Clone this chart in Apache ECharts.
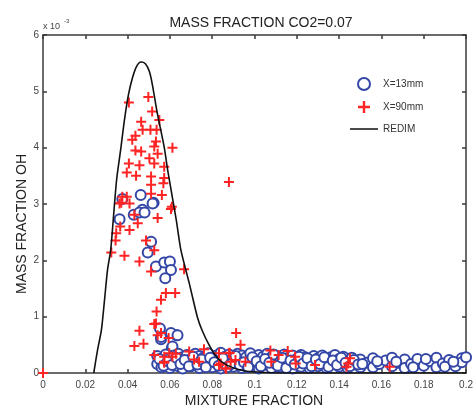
<!DOCTYPE html>
<html>
<head>
<meta charset="utf-8">
<script src="https://cdn.jsdelivr.net/npm/echarts@6/dist/echarts.min.js"></script>
<style>
  html, body { margin: 0; padding: 0; background: #fff; }
  #chart { width: 476px; height: 408px; }
</style>
</head>
<body>
<div id="chart"></div>
<script>
// Mixture fraction (x) vs OH mass fraction (y, in units of 1e-3)
const xTicks = [0, 0.02, 0.04, 0.06, 0.08, 0.1, 0.12, 0.14, 0.16, 0.18, 0.2];
const yTicks = [0, 1, 2, 3, 4, 5, 6];

// X=13mm measurements: points inside the flame zone
const blueCore = [
  [0.0375,3.09],[0.0462,3.16],[0.0523,3.02],[0.0470,2.90],[0.0362,2.73],
  [0.0429,2.81],[0.0456,2.85],[0.0480,2.85],[0.0518,3.01],[0.0511,2.33],
  [0.0495,2.14],[0.0534,1.89],[0.0573,1.96],[0.0600,1.98],[0.0605,1.83],
  [0.0578,1.68],[0.0553,0.79],[0.0558,0.60],[0.0631,0.67],[0.0609,0.44],
  [0.0558,0.64],[0.0605,0.71],[0.0636,0.67],[0.0612,0.47],[0.0573,0.23]
];

// X=13mm measurements: low-OH band on the lean side
const blueBand = [
  [0.054,0.30],[0.054,0.16],[0.056,0.22],[0.056,0.10],[0.058,0.33],[0.058,0.14],
  [0.060,0.26],[0.060,0.09],[0.062,0.31],[0.062,0.18],[0.064,0.22],[0.064,0.12],
  [0.064,0.34],[0.066,0.28],[0.066,0.08],[0.068,0.19],[0.068,0.32],[0.070,0.25],
  [0.070,0.12],[0.072,0.34],[0.072,0.17],[0.074,0.22],[0.074,0.09],[0.074,0.30],
  [0.076,0.28],[0.076,0.14],[0.078,0.20],[0.078,0.35],[0.080,0.26],[0.080,0.10],
  [0.082,0.31],[0.082,0.17],[0.084,0.23],[0.084,0.08],[0.084,0.36],[0.086,0.29],
  [0.086,0.15],[0.088,0.21],[0.088,0.33],[0.090,0.27],[0.090,0.11],[0.092,0.34],
  [0.092,0.18],[0.094,0.24],[0.094,0.09],[0.094,0.31],[0.096,0.28],[0.096,0.15],
  [0.098,0.20],[0.098,0.35],[0.100,0.26],[0.100,0.12],[0.102,0.32],[0.102,0.17],
  [0.102,0.08],[0.104,0.23],[0.104,0.29],[0.106,0.34],[0.106,0.14],[0.108,0.21],
  [0.108,0.09],[0.108,0.28],[0.110,0.31],[0.110,0.16],[0.112,0.24],[0.112,0.10],
  [0.114,0.33],[0.114,0.19],[0.116,0.27],[0.116,0.12],[0.118,0.20],[0.118,0.31],
  [0.118,0.08],[0.120,0.25],[0.120,0.15],[0.122,0.32],[0.122,0.11],[0.124,0.22],
  [0.124,0.28],[0.126,0.17],[0.126,0.09],[0.128,0.30],[0.128,0.21],[0.130,0.26],
  [0.130,0.12],[0.132,0.18],[0.132,0.31],[0.134,0.23],[0.134,0.09],[0.136,0.28],
  [0.136,0.15],[0.138,0.20],[0.138,0.32],[0.140,0.25],[0.140,0.11],[0.142,0.17],
  [0.142,0.29],[0.144,0.22],[0.144,0.09],[0.146,0.27],[0.146,0.14],[0.148,0.19],
  [0.150,0.24],[0.150,0.10],[0.153,0.18],[0.156,0.26],[0.156,0.10],[0.159,0.16],
  [0.162,0.22],[0.165,0.12],[0.165,0.27],[0.168,0.18],[0.171,0.24],[0.171,0.09],
  [0.174,0.16],[0.177,0.25],[0.180,0.13],[0.183,0.21],[0.186,0.27],[0.186,0.10],
  [0.189,0.17],[0.192,0.23],[0.195,0.12],[0.198,0.26],[0.198,0.19]
];

// X=13mm measurements: further samples filling the same band
const blueBandFill = [
  [0.055,0.25],[0.057,0.13],[0.059,0.21],[0.061,0.14],[0.063,0.27],[0.065,0.16],
  [0.067,0.23],[0.069,0.12],[0.071,0.29],[0.073,0.15],[0.075,0.24],[0.077,0.10],
  [0.079,0.27],[0.081,0.19],[0.083,0.13],[0.085,0.26],[0.087,0.10],[0.089,0.16],
  [0.091,0.30],[0.093,0.14],[0.095,0.19],[0.097,0.10],[0.099,0.28],[0.101,0.21],
  [0.103,0.12],[0.105,0.25],[0.107,0.18],[0.109,0.33],[0.111,0.13],[0.113,0.27],
  [0.115,0.09],[0.117,0.22],[0.119,0.15],[0.121,0.29],[0.123,0.17],[0.125,0.26],
  [0.127,0.12],[0.129,0.24],[0.131,0.16],[0.133,0.28],[0.135,0.11],[0.137,0.22],
  [0.139,0.14],[0.141,0.27],[0.143,0.18],[0.145,0.12],[0.147,0.23],[0.149,0.15],
  [0.151,0.16],[0.158,0.21],[0.167,0.20],[0.175,0.10],[0.181,0.25],[0.190,0.11],
  [0.194,0.20],[0.200,0.28]
];

// X=90mm measurements
const redPoints = [
  [0,0],
  [0.0406,4.80],[0.0498,4.90],[0.0516,4.64],[0.0550,4.49],[0.0464,4.46],
  [0.0508,4.32],[0.0471,4.32],[0.0437,4.21],[0.0537,4.32],[0.0422,4.14],
  [0.0534,4.11],[0.0526,4.02],[0.0612,4.00],[0.0437,3.95],[0.0464,3.93],
  [0.0542,3.89],[0.0503,3.81],[0.0406,3.72],[0.0456,3.69],[0.0526,3.72],
  [0.0573,3.66],[0.0396,3.56],[0.0440,3.50],[0.0511,3.49],[0.0573,3.46],
  [0.0511,3.34],[0.0569,3.37],[0.0375,3.13],[0.0511,3.18],[0.0562,3.16],
  [0.0609,2.95],[0.0370,3.02],[0.0396,3.13],
  [0.0362,3.01],[0.0409,3.01],[0.0432,2.81],[0.0542,2.75],[0.0605,2.91],
  [0.0365,2.60],[0.0409,2.54],[0.0448,2.66],[0.0346,2.48],[0.0343,2.35],
  [0.0487,2.35],[0.0526,2.18],[0.0323,2.14],[0.0385,2.08],[0.0456,1.98],
  [0.0511,1.80],[0.0667,1.84],[0.0581,1.42],[0.0625,1.42],[0.0558,1.30],
  [0.0537,1.09],[0.0526,0.87],[0.0456,0.75],[0.0432,0.48],[0.0475,0.52],
  [0.0542,0.67],[0.0594,0.62],[0.0526,0.32],[0.0573,0.29],[0.0628,0.34],
  [0.0573,0.18],[0.0714,0.24],
  [0.0534,0.88],[0.0558,0.71],[0.0597,0.35],[0.0612,0.29],[0.0691,0.38],
  [0.0573,0.20],[0.0738,0.20],[0.0832,0.35],[0.0840,0.17],[0.0879,0.35],
  [0.0866,0.08],[0.0913,0.71],[0.0934,0.50],[0.0957,0.20],[0.0910,0.23],
  [0.0761,0.42],[0.0883,0.36],[0.0887,0.20],[0.1075,0.40],[0.1114,0.32],
  [0.1157,0.39],[0.1192,0.29],[0.1195,0.17],[0.1079,0.20],[0.1286,0.14],
  [0.1451,0.26],[0.1443,0.17],[0.1435,0.11],[0.1639,0.11],[0.0832,0.14],
  [0.0863,0.08],[0.0879,3.39]
];

// REDIM manifold prediction
const redimCurve = [
  [0.0240,0],[0.0258,0.41],[0.0276,0.76],[0.0291,1.30],[0.0305,1.83],
  [0.0320,2.18],[0.0334,2.81],[0.0348,3.43],[0.0367,3.96],[0.0385,4.49],
  [0.0404,4.94],[0.0423,5.24],[0.0442,5.44],[0.0463,5.52],[0.0484,5.49],
  [0.0503,5.35],[0.0517,5.12],[0.0540,4.62],[0.0573,4.01],[0.0589,3.61],
  [0.0612,3.11],[0.0630,2.72],[0.0652,2.18],[0.0691,1.60],[0.0730,0.99],
  [0.0752,0.76],[0.0785,0.50],[0.0822,0.28],[0.0869,0.14],[0.0949,0.04],
  [0.1043,0.01],[0.1208,0],[0.2,0]
];

const FONT = 'Liberation Sans, Arial, Helvetica, sans-serif';
const FRAME = '#3a3a3a';
const BLUE = '#3447a6';
const RED = '#ff2424';
const PLUS = 'path://M4,0h2v4h4v2h-4v4h-2v-4h-4v-2h4z';
// thin horizontal stroke; tiny corner dots keep the icon box 28x12 so it is not stretched
const LINE_ICON = 'path://M0,0h0.01v0.01h-0.01zM0,5.2h28v1.6h-28zM27.99,11.99h0.01v0.01h-0.01z';

const chart = echarts.init(document.getElementById('chart'), null, { renderer: 'canvas' });

const frameAxis = {
  axisLine: { show: true, onZero: false, lineStyle: { color: FRAME, width: 1.5 } },
  axisTick: { show: true, inside: true, length: 4, lineStyle: { color: FRAME, width: 1.5 } },
  splitLine: { show: false }
};

chart.setOption({
  animation: false,
  backgroundColor: '#fff',
  textStyle: { fontFamily: FONT },
  title: {
    text: 'MASS FRACTION CO2=0.07',
    left: 256, top: 11, textAlign: 'center',
    textStyle: { fontFamily: FONT, fontSize: 14, fontWeight: 'normal', color: '#222' }
  },
  grid: { left: 43, right: 7, top: 35, bottom: 35 },
  legend: {
    orient: 'vertical',
    left: 345, top: 72,
    itemWidth: 28, itemHeight: 12, itemGap: 10,
    textStyle: { fontFamily: FONT, fontSize: 10, color: '#333' },
    data: [
      { name: 'X=13mm' },
      { name: 'X=90mm' },
      { name: 'REDIM', icon: LINE_ICON, itemStyle: { color: '#111', borderWidth: 0 } }
    ]
  },
  xAxis: [
    Object.assign({
      type: 'value', min: 0, max: 0.2, interval: 0.02, position: 'bottom',
      axisLabel: {
        margin: 7, fontSize: 10, color: '#444', fontFamily: FONT,
        formatter: v => String(+v.toFixed(2))
      }
    }, frameAxis),
    Object.assign({
      type: 'value', min: 0, max: 0.2, interval: 0.02, position: 'top',
      axisLabel: { show: false }
    }, frameAxis)
  ],
  yAxis: [
    Object.assign({
      type: 'value', min: 0, max: 6, interval: 1, position: 'left',
      axisLabel: { margin: 4, fontSize: 10, color: '#444', fontFamily: FONT,
        formatter: v => String(v) }
    }, frameAxis),
    Object.assign({
      type: 'value', min: 0, max: 6, interval: 1, position: 'right',
      axisLabel: { show: false }
    }, frameAxis)
  ],
  graphic: [
    { type: 'text', left: 43, top: 22,
      style: { text: 'x 10', fontFamily: FONT, fontSize: 9, fill: '#444' } },
    { type: 'text', left: 64, top: 18,
      style: { text: '-3', fontFamily: FONT, fontSize: 6, fill: '#444' } },
    { type: 'text', x: 22, y: 224, rotation: Math.PI / 2,
      style: { text: 'MASS FRACTION OH', fontFamily: FONT, fontSize: 14, fill: '#222',
        align: 'center', verticalAlign: 'middle' } },
    { type: 'text', x: 254, y: 401,
      style: { text: 'MIXTURE FRACTION', fontFamily: FONT, fontSize: 14, fill: '#222',
        align: 'center', verticalAlign: 'middle' } }
  ],
  series: [
    {
      name: 'X=13mm', type: 'scatter', z: 2,
      symbol: 'emptyCircle', symbolSize: 10,
      itemStyle: { color: BLUE, borderColor: BLUE, borderWidth: 1.9, opacity: 1 },
      data: blueCore.concat(blueBand, blueBandFill)
    },
    {
      name: 'X=90mm', type: 'scatter', z: 3,
      symbol: PLUS, symbolSize: 10,
      itemStyle: { color: RED, opacity: 1 },
      data: redPoints
    },
    {
      name: 'REDIM', type: 'line', z: 4,
      symbol: 'none', smooth: 0.25,
      lineStyle: { color: '#111', width: 1.6 },
      itemStyle: { color: '#111' },
      data: redimCurve
    }
  ]
});
</script>
</body>
</html>
